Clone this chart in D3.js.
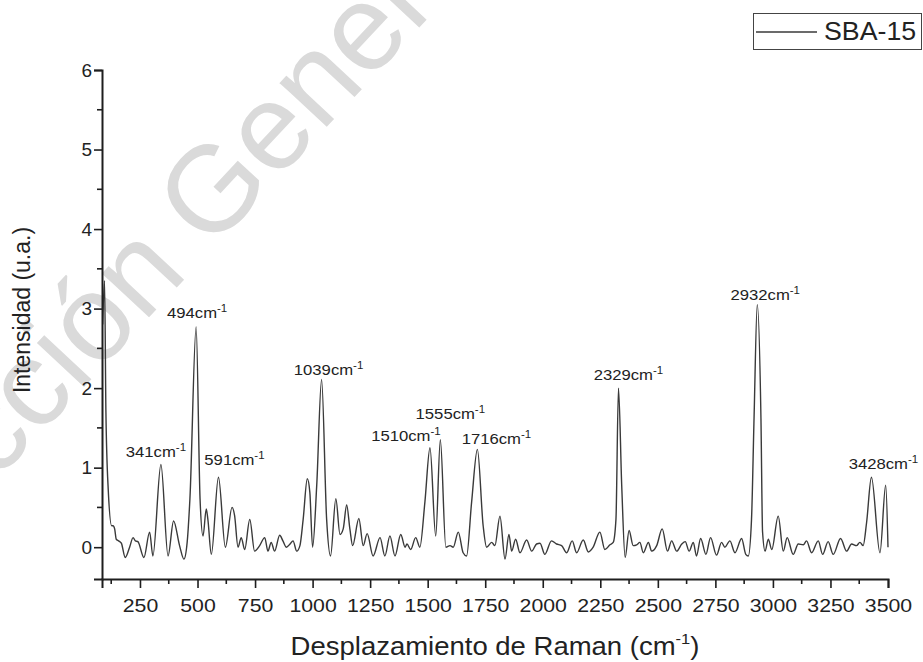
<!DOCTYPE html>
<html>
<head>
<meta charset="utf-8">
<script src="https://cdn.jsdelivr.net/npm/d3@7"></script>
<style>
  html, body { margin: 0; padding: 0; background: #fff; }
  svg { display: block; font-family: "Liberation Sans", Arial, sans-serif; }
</style>
</head>
<body>
<svg id="chart" width="923" height="662"></svg>
<script>
// Raman spectrum of SBA-15
const shift = [
  88, 96, 102, 112, 127, 133, 140, 147, 157, 169, 186, 205, 220, 230, 241, 267, 292, 306,
  341, 372, 396, 422, 441, 455, 467, 494, 511, 524, 538, 545, 560, 591, 621, 650, 661, 676,
  690, 705, 727, 748, 770, 792, 806, 820, 835, 857, 871, 886, 902, 915, 931, 945, 959, 977,
  988, 1000, 1018, 1039, 1061, 1078, 1101, 1119, 1133, 1148, 1162, 1174, 1201, 1220, 1237,
  1263, 1293, 1314, 1336, 1358, 1383, 1402, 1410, 1426, 1448, 1466, 1488, 1510, 1535, 1555,
  1579, 1597, 1611, 1633, 1654, 1669, 1691, 1716, 1741, 1756, 1778, 1792, 1814, 1836, 1853,
  1865, 1882, 1901, 1930, 1952, 1973, 1988, 2009, 2038, 2060, 2082, 2104, 2128, 2147, 2176,
  2198, 2219, 2248, 2270, 2292, 2306, 2318, 2329, 2343, 2358, 2375, 2393, 2408, 2422, 2437,
  2459, 2473, 2495, 2519, 2542, 2560, 2582, 2604, 2619, 2636, 2654, 2668, 2686, 2709, 2729,
  2755, 2777, 2791, 2813, 2835, 2864, 2882, 2893, 2907, 2918, 2932, 2948, 2955, 2966, 2980,
  2995, 3023, 3045, 3062, 3088, 3110, 3132, 3146, 3168, 3197, 3216, 3240, 3262, 3294, 3320,
  3342, 3363, 3378, 3392, 3407, 3428, 3465, 3490, 3500
];
const intensity = [
  2.8, 3.35, 1.7, 0.73, 0.27, 0.27, 0.23, 0.10, 0.08, 0.05, -0.13, 0.00, 0.12, 0.08, 0.07, -0.13, 0.19, -0.11,
  1.04, -0.11, 0.33, 0.02, -0.15, 0.06, 0.61, 2.77, 0.61, 0.14, 0.48, 0.35, -0.09, 0.88, 0.00, 0.50, 0.40, 0.00,
  0.12, -0.03, 0.35, -0.05, 0.02, 0.12, -0.05, 0.06, -0.05, 0.15, 0.08, 0.00, 0.04, 0.08, -0.05, 0.02, 0.35, 0.86,
  0.69, 0.00, 0.78, 2.11, 0.35, -0.11, 0.61, 0.16, 0.23, 0.53, 0.23, 0.02, 0.36, 0.02, 0.17,
  -0.11, 0.12, -0.11, 0.14, -0.11, 0.16, 0.00, 0.04, -0.03, 0.12, 0.00, 0.57, 1.25, 0.14, 1.35,
  0.00, 0.02, 0.00, 0.19, -0.07, -0.11, 0.57, 1.23, 0.27, 0.00, 0.06, 0.02, 0.39, -0.15, 0.16,
  -0.05, 0.10, -0.07, 0.09, -0.05, 0.04, 0.05, -0.09, 0.08, 0.04, 0.02, -0.07, 0.08, -0.07, 0.09,
  -0.06, 0.00, 0.19, -0.03, 0.03, 0.06, 0.35, 2.00, 0.78, -0.13, 0.21, 0.02, 0.03, 0.06, -0.07,
  0.06, -0.05, 0.02, 0.23, -0.05, 0.08, -0.05, 0.04, 0.07, -0.05, 0.06, -0.11, 0.11, -0.09, 0.12,
  -0.10, 0.06, 0.00, 0.08, -0.07, 0.11, -0.09, -0.11, 0.35, 1.62, 3.05, 1.62, 0.19, -0.05, 0.10,
  -0.03, 0.39, -0.05, 0.12, -0.09, 0.04, 0.03, 0.08, -0.07, 0.08, -0.09, 0.07, -0.09, 0.11, -0.05,
  0.04, 0.02, 0.06, 0.02, 0.31, 0.88, -0.07, 0.78, 0.00
];

// labelled peaks
const peakShift = [341, 494, 591, 1039, 1510, 1555, 1716, 2329, 2932, 3428];
const peakHeight = [1.04, 2.77, 0.88, 2.11, 1.25, 1.35, 1.23, 2.00, 3.05, 0.88];
// label nudges in px (dx, dy above the peak top)
const labelNudge = [[-5, 7], [1, 9], [16, 12], [7, 4], [-24, 7], [10, 21], [19, 5], [10, 8], [8, 5], [12, 8]];

const xTicks = [250, 500, 750, 1000, 1250, 1500, 1750, 2000, 2250, 2500, 2750, 3000, 3250, 3500];
const xMinor = [125, 375, 625, 875, 1125, 1375, 1625, 1875, 2125, 2375, 2625, 2875, 3125, 3375];
const yTicks = [0, 1, 2, 3, 4, 5, 6];
const yMinor = [0.5, 1.5, 2.5, 3.5, 4.5, 5.5];

const svg = d3.select('#chart');
const lineColor = '#3a3a3a';
const ink = '#1e1e1e';

const x = d3.scaleLinear().domain([85, 3500]).range([102, 888]);
const y = d3.scaleLinear().domain([-0.4, 6]).range([579, 70]);

// faint watermark behind the plot
const wm = svg.append('g')
  .attr('transform', 'translate(210,252) rotate(-47)')
  .attr('font-size', 122)
  .attr('fill', '#dadada');
wm.append('text').attr('x', -30).attr('text-anchor', 'end').text('Dirección');
wm.append('text').attr('x', 0).text('General de Bibliotecas');

// spectrum
const pts = shift.map((s, i) => [s, intensity[i]]);
const line = d3.line()
  .x(d => x(d[0]))
  .y(d => y(d[1]))
  .curve(d3.curveMonotoneX);

svg.append('path')
  .datum(pts)
  .attr('d', line)
  .attr('fill', 'none')
  .attr('stroke', lineColor)
  .attr('stroke-width', 1.4)
  .attr('stroke-linejoin', 'round');

// axes
const xAxis = svg.append('g').attr('transform', `translate(0,${y.range()[0]})`)
  .call(d3.axisBottom(x).tickValues(xTicks).tickSize(9).tickPadding(11).tickFormat(d3.format('d')));
xAxis.append('g').selectAll('line').data(xMinor).join('line')
  .attr('x1', d => x(d)).attr('x2', d => x(d))
  .attr('y1', 0).attr('y2', 5);

const yAxis = svg.append('g').attr('transform', `translate(${x.range()[0]},0)`)
  .call(d3.axisLeft(y).tickValues(yTicks).tickSize(8).tickPadding(2).tickFormat(d3.format('d')));
yAxis.append('g').selectAll('line').data(yMinor).join('line')
  .attr('x1', 0).attr('x2', -5)
  .attr('y1', d => y(d)).attr('y2', d => y(d));

svg.selectAll('.domain').attr('stroke', ink).attr('stroke-width', 2);
svg.selectAll('g line').attr('stroke', ink).attr('stroke-width', 1.6);
svg.selectAll('.tick text').attr('font-size', 19).attr('fill', '#222')
  .attr('font-family', '"Liberation Sans", Arial, sans-serif');
// the source figure's lettering is a little wider than it is tall
xAxis.selectAll('.tick text').attr('transform', 'scale(1.12,1)');

// axis titles
svg.append('text')
  .attr('transform', 'translate(30,310) rotate(-90)')
  .attr('text-anchor', 'middle')
  .attr('font-size', 23)
  .attr('fill', '#222')
  .text('Intensidad (u.a.)');

const xTitle = svg.append('g')
  .attr('transform', 'translate(495,655) scale(1.1,1)')
  .append('text')
  .attr('text-anchor', 'middle')
  .attr('font-size', 25)
  .attr('fill', '#222');
xTitle.append('tspan').text('Desplazamiento de Raman (cm');
xTitle.append('tspan').attr('dy', -11).attr('font-size', 15).text('-1');
xTitle.append('tspan').attr('dy', 11).text(')');

// peak labels
peakShift.forEach((p, i) => {
  const t = svg.append('g')
    .attr('transform', `translate(${x(p) + labelNudge[i][0]},${y(peakHeight[i]) - labelNudge[i][1]}) scale(1.15,1)`)
    .append('text')
    .attr('text-anchor', 'middle')
    .attr('font-size', 14.5)
    .attr('fill', '#222');
  t.append('tspan').text(p + 'cm');
  t.append('tspan').attr('dy', -6).attr('font-size', 10).text('-1');
});

// legend
const lg = svg.append('g');
lg.append('rect')
  .attr('x', 753.5).attr('y', 13.5).attr('width', 168).attr('height', 36)
  .attr('fill', '#fff').attr('stroke', '#444').attr('stroke-width', 1);
lg.append('line')
  .attr('x1', 756).attr('x2', 817).attr('y1', 32).attr('y2', 32)
  .attr('stroke', lineColor).attr('stroke-width', 1.3);
lg.append('g')
  .attr('transform', 'translate(824,40) scale(1.07,1)')
  .append('text')
  .attr('font-size', 25).attr('fill', '#222')
  .text('SBA-15');
</script>
</body>
</html>
